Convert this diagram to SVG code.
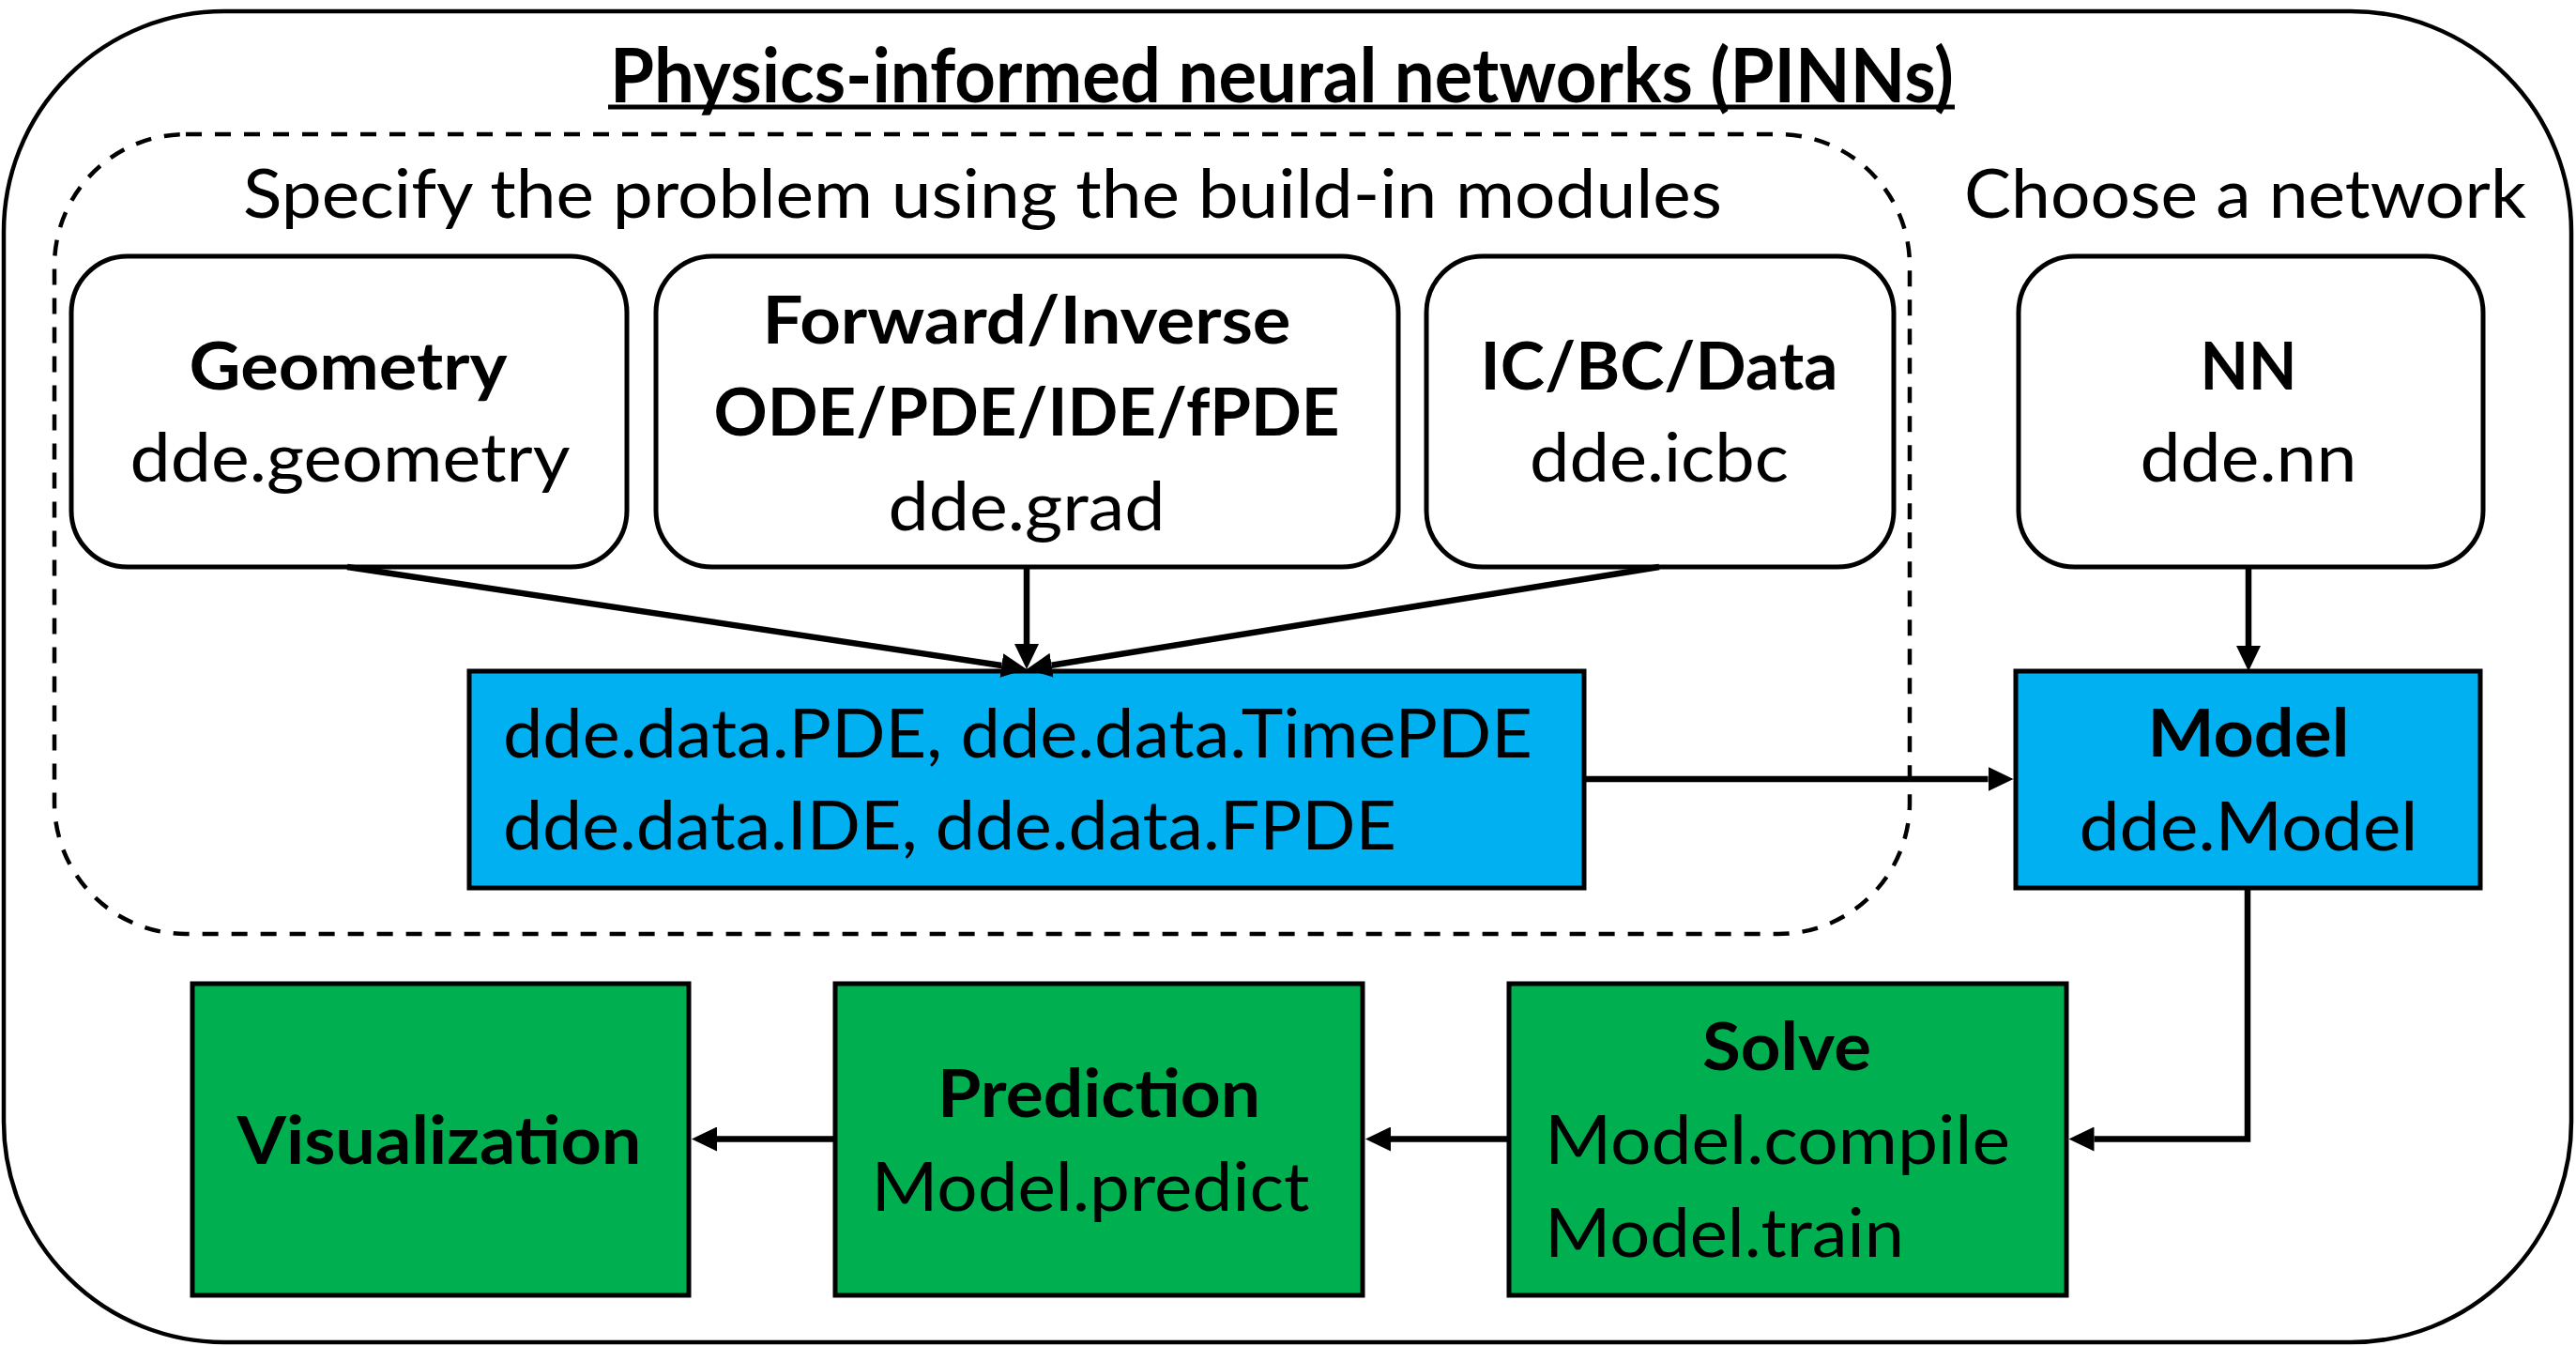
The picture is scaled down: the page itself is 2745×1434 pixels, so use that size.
<svg xmlns="http://www.w3.org/2000/svg" width="2745" height="1434" viewBox="0 0 2745 1434">
<style>
  text { font-family: Lato, "Liberation Sans", sans-serif; fill: #000; }
  .r { font-size: 71px; font-weight: 400; }
  .b { font-size: 71px; font-weight: 700; }
  .t { font-size: 80px; font-weight: 700; }
  .box { stroke: #000; stroke-width: 5; }
  .white { fill: #fff; }
  .blue { fill: #00B0F0; }
  .green { fill: #00B050; }
  .conn { fill: none; stroke: #000; stroke-width: 6.5; }
</style>
<defs>
  <marker id="arr" markerUnits="userSpaceOnUse" viewBox="0 0 27 26" refX="0" refY="13" markerWidth="27" markerHeight="26" orient="auto">
    <path d="M0,0 L27,13 L0,26 z" fill="#000"/>
  </marker>
</defs>
<rect width="2745" height="1434" fill="#fff"/>

<g id="frame">
  <rect x="4" y="12" width="2736" height="1418" rx="235" ry="235" fill="none" stroke="#000" stroke-width="4.5"/>
  <text class="t" x="1366" y="109" text-anchor="middle" textLength="1432" lengthAdjust="spacingAndGlyphs">Physics-informed neural networks (PINNs)</text>
  <line x1="648" y1="114" x2="2083" y2="114" stroke="#000" stroke-width="5"/>
</g>

<g id="specify-group">
  <rect x="58" y="143" width="1977" height="852" rx="140" ry="140" fill="none" stroke="#000" stroke-width="4.5" stroke-dasharray="17 14"/>
  <text class="r" x="259" y="232" textLength="1576" lengthAdjust="spacingAndGlyphs">Specify the problem using the build-in modules</text>
</g>

<g id="choose-label">
  <text class="r" x="2093" y="232" textLength="599" lengthAdjust="spacingAndGlyphs">Choose a network</text>
</g>

<g id="geometry">
  <rect class="box white" x="76" y="273" width="592" height="331" rx="60" ry="60"/>
  <text class="b" x="371" y="415" text-anchor="middle" textLength="339" lengthAdjust="spacingAndGlyphs">Geometry</text>
  <text class="r" x="373" y="513" text-anchor="middle" textLength="469" lengthAdjust="spacingAndGlyphs">dde.geometry</text>
</g>

<g id="pde">
  <rect class="box white" x="699" y="273" width="791" height="331" rx="60" ry="60"/>
  <text class="b" x="1094" y="366" text-anchor="middle" textLength="563" lengthAdjust="spacingAndGlyphs">Forward/Inverse</text>
  <text class="b" x="1094" y="464" text-anchor="middle" textLength="667" lengthAdjust="spacingAndGlyphs">ODE/PDE/IDE/fPDE</text>
  <text class="r" x="1094" y="565" text-anchor="middle" textLength="295" lengthAdjust="spacingAndGlyphs">dde.grad</text>
</g>

<g id="icbc">
  <rect class="box white" x="1520" y="273" width="498" height="331" rx="60" ry="60"/>
  <text class="b" x="1768" y="415" text-anchor="middle" textLength="381" lengthAdjust="spacingAndGlyphs">IC/BC/Data</text>
  <text class="r" x="1768" y="513" text-anchor="middle" textLength="276" lengthAdjust="spacingAndGlyphs">dde.icbc</text>
</g>

<g id="nn">
  <rect class="box white" x="2151" y="273" width="495" height="331" rx="60" ry="60"/>
  <text class="b" x="2396" y="415" text-anchor="middle" textLength="103" lengthAdjust="spacingAndGlyphs">NN</text>
  <text class="r" x="2396" y="513" text-anchor="middle" textLength="231" lengthAdjust="spacingAndGlyphs">dde.nn</text>
</g>

<g id="data">
  <rect class="box blue" x="500" y="715" width="1188" height="231"/>
  <text class="r" x="536" y="807" textLength="1097" lengthAdjust="spacingAndGlyphs">dde.data.PDE, dde.data.TimePDE</text>
  <text class="r" x="536" y="905" textLength="952" lengthAdjust="spacingAndGlyphs">dde.data.IDE, dde.data.FPDE</text>
</g>

<g id="model">
  <rect class="box blue" x="2148" y="715" width="495" height="231"/>
  <text class="b" x="2396" y="806" text-anchor="middle" textLength="215" lengthAdjust="spacingAndGlyphs">Model</text>
  <text class="r" x="2396" y="906" text-anchor="middle" textLength="361" lengthAdjust="spacingAndGlyphs">dde.Model</text>
</g>

<g id="solve">
  <rect class="box green" x="1608" y="1048" width="594" height="332"/>
  <text class="b" x="1904" y="1140" text-anchor="middle" textLength="180" lengthAdjust="spacingAndGlyphs">Solve</text>
  <text class="r" x="1646" y="1240" textLength="496" lengthAdjust="spacingAndGlyphs">Model.compile</text>
  <text class="r" x="1646" y="1339" textLength="383" lengthAdjust="spacingAndGlyphs">Model.train</text>
</g>

<g id="prediction">
  <rect class="box green" x="890" y="1048" width="562" height="332"/>
  <text class="b" x="1171" y="1190" text-anchor="middle" textLength="344" lengthAdjust="spacingAndGlyphs">Prediction</text>
  <text class="r" x="1162" y="1290" text-anchor="middle" textLength="467" lengthAdjust="spacingAndGlyphs">Model.predict</text>
</g>

<g id="visualization">
  <rect class="box green" x="205" y="1048" width="529" height="332"/>
  <text class="b" x="468" y="1240" text-anchor="middle" textLength="431" lengthAdjust="spacingAndGlyphs">Visualization</text>
</g>

<g id="connectors">
  <line class="conn" x1="370" y1="604" x2="1067.3" y2="709" marker-end="url(#arr)"/>
  <line class="conn" x1="1094" y1="604" x2="1094" y2="686" marker-end="url(#arr)"/>
  <line class="conn" x1="1768" y1="604" x2="1120.6" y2="708.7" marker-end="url(#arr)"/>
  <line class="conn" x1="2396" y1="604" x2="2396" y2="688" marker-end="url(#arr)"/>
  <line class="conn" x1="1688" y1="830" x2="2118.5" y2="830" marker-end="url(#arr)"/>
  <path class="conn" d="M2395,946 V1213.5 H2231.5" marker-end="url(#arr)"/>
  <line class="conn" x1="1608" y1="1213.5" x2="1482" y2="1213.5" marker-end="url(#arr)"/>
  <line class="conn" x1="890" y1="1213.5" x2="764" y2="1213.5" marker-end="url(#arr)"/>
</g>
</svg>
